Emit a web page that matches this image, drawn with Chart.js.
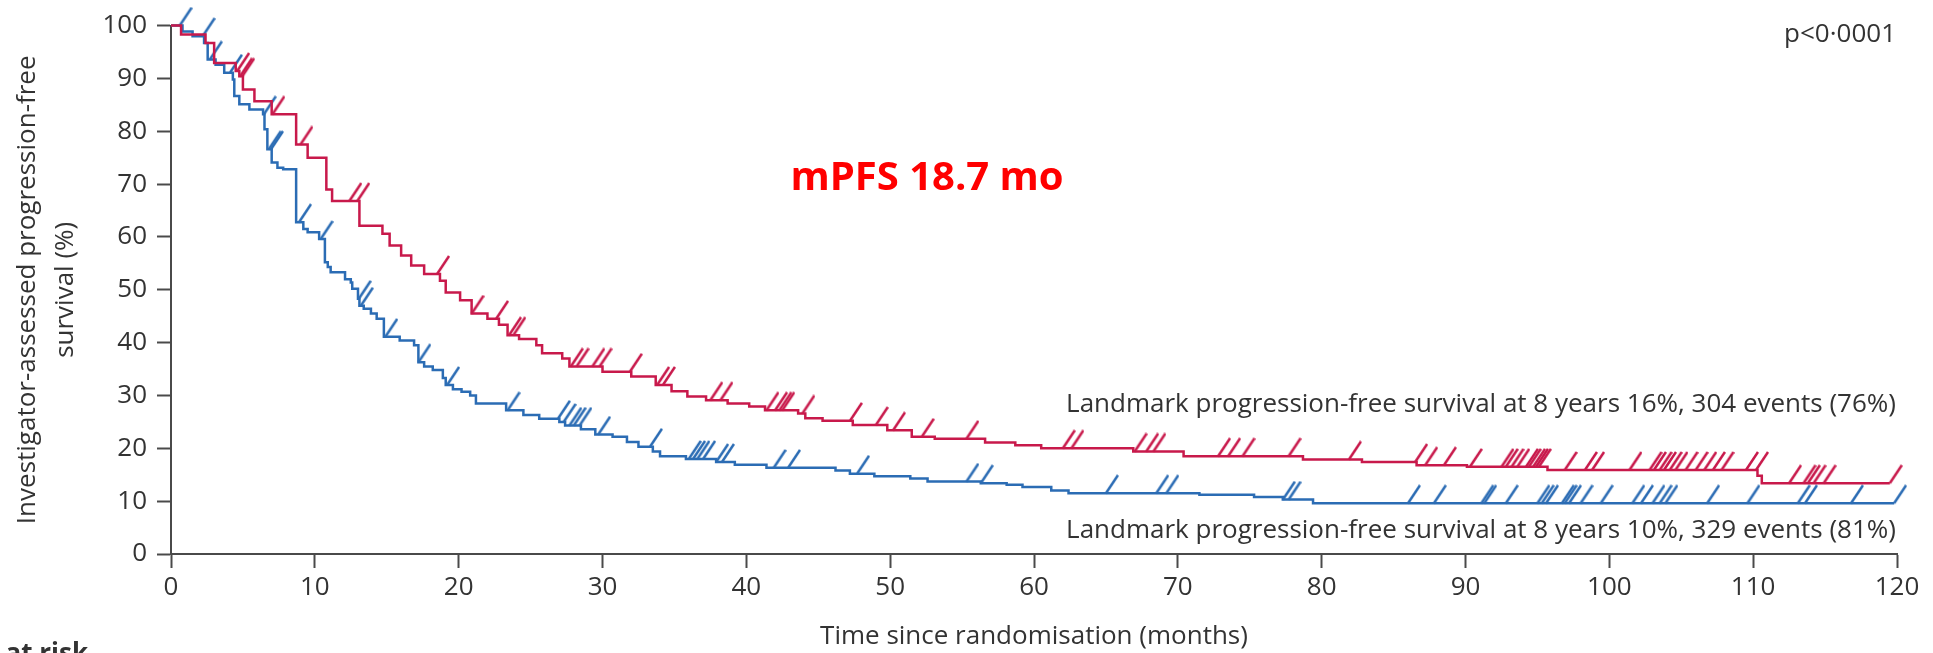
<!DOCTYPE html>
<html>
<head>
<meta charset="utf-8">
<script src="https://cdn.jsdelivr.net/npm/chart.js@4.4.1/dist/chart.umd.min.js"></script>
<style>
  html, body { margin: 0; padding: 0; background: #ffffff; }
  #wrap { width: 1933px; height: 653px; position: relative; overflow: hidden; }
</style>
</head>
<body>
<div id="wrap"><canvas id="km" width="1933" height="653"></canvas></div>
<script>
// Kaplan-Meier step data: event times (months) and survival (%) after each step
const redTimes = [0,0.7,2.4,3.0,4.5,4.75,5.0,5.8,7.0,8.7,9.5,10.8,11.2,13.1,14.7,15.2,16.0,16.7,17.6,18.7,19.1,20.1,20.9,22.0,22.8,23.4,24.2,25.4,25.8,27.2,27.7,30.0,32.0,33.7,34.8,35.9,37.2,38.7,40.2,41.3,43.6,44.1,45.3,47.4,49.8,51.5,53.1,56.6,58.7,60.5,66.9,70.4,78.7,82.8,86.6,90.1,95.7,110.3,110.6,119.5];
const redSurv  = [100,98.3,96.7,92.9,91.4,90.4,87.9,85.7,83.2,77.5,75.0,69.0,66.8,62.1,60.6,58.4,56.5,54.6,53.0,51.7,49.5,48.0,45.5,44.5,43.4,41.4,40.7,39.5,38.0,37.0,35.5,34.5,33.6,32.0,30.8,29.8,29.1,28.5,27.9,27.2,26.6,25.7,25.2,24.4,23.4,22.2,21.8,21.1,20.6,20.0,19.4,18.5,17.9,17.4,16.8,16.5,15.9,14.8,13.4,13.4];

const blueTimes = [0,0.8,1.5,2.3,2.55,3.1,3.7,4.3,4.4,4.75,5.45,6.4,6.5,6.7,7.0,7.4,7.8,8.7,9.2,9.5,10.3,10.7,10.9,11.1,12.1,12.5,12.6,13.0,13.1,13.4,13.9,14.3,14.8,15.9,16.9,17.2,17.6,18.2,18.9,19.1,19.6,20.2,20.8,21.2,23.3,24.5,25.6,27.0,27.4,28.5,29.5,30.7,31.7,32.5,33.5,34.0,35.8,37.9,39.2,41.4,46.2,47.2,48.9,51.4,52.6,56.3,58.1,59.2,61.2,62.4,71.5,75.3,77.3,79.4,119.8];
const blueSurv  = [100,98.9,98.0,96.7,93.6,92.6,91.1,89.8,86.7,85.1,84.1,83.2,80.4,76.6,74.1,73.1,72.8,62.8,61.5,60.9,59.6,55.2,54.3,53.3,52.0,51.4,50.2,48.3,47.0,46.4,45.5,44.5,41.1,40.4,39.5,36.3,35.5,34.8,33.3,32.0,31.2,30.7,30.0,28.5,27.2,26.3,25.6,25.0,24.3,23.6,22.6,22.2,21.2,20.3,19.4,18.5,18.0,17.4,16.9,16.3,15.8,15.2,14.7,14.3,13.7,13.4,13.1,12.7,12.0,11.5,11.2,10.8,10.3,9.6,9.6];

// Censoring times (months)
const redCensor = [4.6,4.8,4.95,7.05,9.0,12.4,12.95,18.5,20.9,22.6,23.5,23.8,27.8,28.2,29.3,29.8,31.9,33.8,34.2,37.5,38.2,41.4,42.0,42.3,42.5,43.9,47.2,49.0,50.2,52.2,55.3,62.0,62.6,67.0,67.8,68.3,72.8,73.5,74.5,77.7,81.9,86.5,87.2,88.5,90.3,92.5,92.8,93.2,93.6,94.2,94.4,94.7,94.9,95.1,96.9,98.3,98.8,101.4,102.8,103.1,103.5,103.8,104.2,104.6,105.3,106.0,106.6,107.2,107.8,109.5,110.2,112.5,113.5,113.8,114.2,114.9,119.5];
const blueCensor = [0.6,2.2,2.7,4.1,6.45,6.8,6.95,8.9,10.4,13.05,13.2,14.9,17.2,19.2,23.4,26.9,27.3,27.7,28.0,28.4,29.7,33.3,36.0,36.3,36.6,37.0,37.9,38.3,41.9,42.9,47.7,55.3,56.3,65.0,68.5,69.2,77.3,77.7,86.0,87.8,91.1,91.3,92.8,95.0,95.3,95.6,96.7,96.9,97.2,98.0,99.4,101.6,102.2,103.0,103.5,103.9,106.8,109.6,113.1,113.6,116.8,119.8];

// Axis ticks
const xTicks = [0,10,20,30,40,50,60,70,80,90,100,110,120];
const yTicks = [0,10,20,30,40,50,60,70,80,90,100];

const RED = '#c8194b';
const BLUE = '#2b6cb4';
const AXIS = '#4a4a4a';
const TEXT = '#333333';
const FONT = "'Open Sans', 'Noto Sans', sans-serif";
const LINE_W = 2.5;

// survival value of a step curve at time t
function survAt(times, surv, t) {
  let v = surv[0];
  for (let i = 0; i < times.length; i++) {
    if (times[i] <= t) v = surv[i]; else break;
  }
  return v;
}

// slanted censor tick: starts at the point and rises to the upper right
function censorMark(color) {
  const w = 26, h = 38;
  const c = document.createElement('canvas');
  c.width = w; c.height = h;
  const g = c.getContext('2d');
  g.strokeStyle = color;
  g.lineWidth = LINE_W;
  g.lineCap = 'butt';
  g.beginPath();
  g.moveTo(w / 2, h / 2);
  g.lineTo(w - 1, 1);
  g.stroke();
  return c;
}

const toPts = (times, surv) => times.map((t, i) => ({ x: t, y: surv[i] }));
const censorPts = (cens, times, surv) => cens.map(t => ({ x: t, y: survAt(times, surv, t) }));

// free-standing texts on the plot
const annotations = {
  id: 'annotations',
  afterDraw(chart) {
    const ctx = chart.ctx;
    ctx.save();
    ctx.fillStyle = TEXT;
    ctx.font = `26px ${FONT}`;
    ctx.textBaseline = 'alphabetic';
    ctx.textAlign = 'right';
    ctx.fillText('p<0\u00B70001', 1896, 42);
    ctx.fillText('Landmark progression-free survival at 8 years 16%, 304 events (76%)', 1896, 412);
    ctx.fillText('Landmark progression-free survival at 8 years 10%, 329 events (81%)', 1896, 538);
    ctx.font = `bold 26px ${FONT}`;
    ctx.fillText('Number at risk', 88, 662);
    ctx.fillStyle = '#ff0000';
    ctx.font = `bold 40px ${FONT}`;
    ctx.textAlign = 'center';
    ctx.fillText('mPFS 18.7 mo', 927, 190);
    ctx.restore();
  }
};

new Chart(document.getElementById('km'), {
  type: 'line',
  data: {
    datasets: [
      { data: toPts(redTimes, redSurv), stepped: 'before', borderColor: RED, borderWidth: LINE_W, pointRadius: 0, fill: false, clip: false },
      { data: toPts(blueTimes, blueSurv), stepped: 'before', borderColor: BLUE, borderWidth: LINE_W, pointRadius: 0, fill: false, clip: false },
      { data: censorPts(redCensor, redTimes, redSurv), showLine: false, pointStyle: censorMark(RED), pointRadius: 10, clip: false },
      { data: censorPts(blueCensor, blueTimes, blueSurv), showLine: false, pointStyle: censorMark(BLUE), pointRadius: 10, clip: false }
    ]
  },
  options: {
    responsive: false,
    animation: false,
    events: [],
    layout: { padding: { top: 24, right: 36, bottom: 0, left: 0 } },
    plugins: { legend: { display: false }, tooltip: { enabled: false } },
    scales: {
      x: {
        type: 'linear', min: 0, max: 120,
        afterBuildTicks: s => { s.ticks = xTicks.map(v => ({ value: v })); },
        afterFit: s => { s.height = 99; },
        border: { display: true, color: AXIS, width: 2 },
        grid: { drawOnChartArea: false, drawTicks: true, tickLength: 14, tickWidth: 2, tickColor: AXIS },
        ticks: { color: TEXT, font: { family: FONT, size: 26 }, padding: 4, maxRotation: 0 },
        title: { display: true, text: 'Time since randomisation (months)', color: TEXT, font: { family: FONT, size: 26 }, padding: { top: 0, bottom: 1 } }
      },
      y: {
        type: 'linear', min: 0, max: 100,
        afterBuildTicks: s => { s.ticks = yTicks.map(v => ({ value: v })); },
        afterFit: s => { s.width = 171; },
        border: { display: true, color: AXIS, width: 2 },
        grid: { drawOnChartArea: false, drawTicks: true, tickLength: 14, tickWidth: 2, tickColor: AXIS },
        ticks: { color: TEXT, font: { family: FONT, size: 26 }, padding: 10 },
        title: { display: true, text: ['Investigator-assessed progression-free', 'survival (%)'], color: TEXT, font: { family: FONT, size: 26, lineHeight: 1.46 }, padding: { top: 9, bottom: 0 } }
      }
    }
  },
  plugins: [annotations]
});
</script>
</body>
</html>
